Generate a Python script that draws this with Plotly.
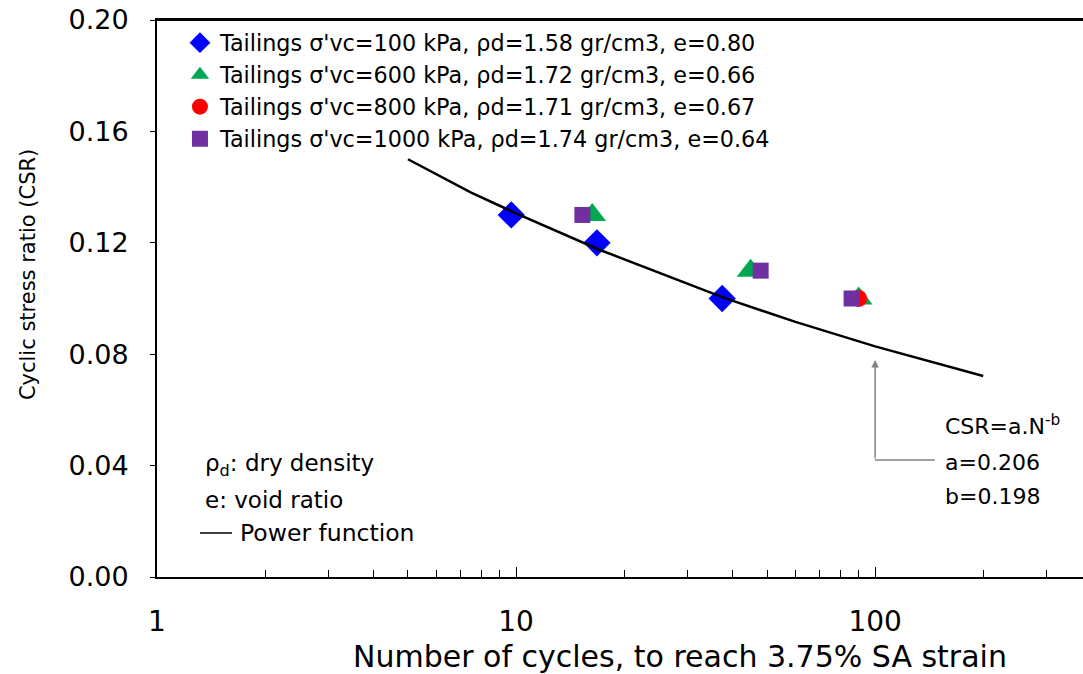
import numpy as np
import plotly.graph_objects as go

# Data
s100_N = [9.7, 16.8, 37.5]
s100_csr = [0.13, 0.12, 0.10]
s600_N = [16.3, 45.0, 90.0]
s600_csr = [0.13, 0.11, 0.10]
s800_N = [90.0]
s800_csr = [0.10]
s1000_N = [15.3, 48.0, 86.0]
s1000_csr = [0.13, 0.11, 0.10]
fit_N = [5, 7.5, 10, 17, 38, 60, 100, 200]
fit_csr = [0.150, 0.138, 0.1306, 0.1176, 0.1002, 0.0916, 0.0828, 0.0722]
x_tickvals = [1, 10, 100]
x_ticktext = ["1", "10", "100"]

names = [
    "Tailings σ'vc=100 kPa, ρd=1.58 gr/cm3, e=0.80",
    "Tailings σ'vc=600 kPa, ρd=1.72 gr/cm3, e=0.66",
    "Tailings σ'vc=800 kPa, ρd=1.71 gr/cm3, e=0.67",
    "Tailings σ'vc=1000 kPa, ρd=1.74 gr/cm3, e=0.64",
]

FONT = "DejaVu Sans"
fig = go.Figure()
fig.add_trace(go.Scatter(x=s100_N, y=s100_csr, mode="markers", name=names[0],
                         marker=dict(symbol="diamond", size=21, color="#0000FF")))
fig.add_trace(go.Scatter(x=s600_N, y=s600_csr, mode="markers", name=names[1],
                         marker=dict(symbol="triangle-up", size=24, color="#00A84F")))
fig.add_trace(go.Scatter(x=s800_N, y=s800_csr, mode="markers", name=names[2],
                         marker=dict(symbol="circle", size=17, color="#FF0000")))
fig.add_trace(go.Scatter(x=s1000_N, y=s1000_csr, mode="markers", name=names[3],
                         marker=dict(symbol="square", size=16, color="#7030A0")))
fig.add_trace(go.Scatter(x=fit_N, y=fit_csr, mode="lines", showlegend=False,
                         line=dict(color="black", width=2.5)))

fig.update_layout(
    width=1083, height=674,
    margin=dict(l=157, r=0, t=20, b=97),
    plot_bgcolor="white", paper_bgcolor="white",
    font=dict(family=FONT, size=22, color="black"),
    legend=dict(x=0.0248, y=0.997, xanchor="left", yanchor="top",
                bgcolor="rgba(0,0,0,0)", font=dict(size=22.3, family=FONT),
                tracegroupgap=0, itemwidth=30),
    showlegend=True,
)
fig.update_xaxes(type="log", range=[0, 2.579], automargin=False,
                 tickvals=x_tickvals, ticktext=x_ticktext,
                 ticks="inside", ticklen=10, tickcolor="black",
                 minor=dict(ticks="inside", ticklen=7, tickcolor="black", dtick="D1", showgrid=False),
                 showline=True, linecolor="black", linewidth=2, mirror=True,
                 showgrid=False, zeroline=False,
                 tickfont=dict(size=28), ticklabelstandoff=18)
fig.update_yaxes(range=[0, 0.2], dtick=0.04, tickformat=".2f", automargin=False,
                 ticks="outside", ticklen=5, tickcolor="black",
                 showline=True, linecolor="black", linewidth=2,
                 showgrid=False, zeroline=False,
                 tickfont=dict(size=27), ticklabelstandoff=16)

# top frame line
fig.add_shape(type="line", xref="paper", yref="paper", x0=0, x1=1, y0=1, y1=1,
              line=dict(color="black", width=2))

# axis titles
fig.add_annotation(text="Number of cycles, to reach 3.75% SA strain", x=0.5648, y=-0.1425,
                   xref="paper", yref="paper", xanchor="center", yanchor="middle",
                   showarrow=False, font=dict(size=30, family=FONT))
fig.add_annotation(text="Cyclic stress ratio (CSR)", x=-0.1393, y=0.542, textangle=-90,
                   xref="paper", yref="paper", xanchor="center", yanchor="middle",
                   showarrow=False, font=dict(size=21, family=FONT))

def note(text, x, y, size):
    fig.add_annotation(text=text, x=x, y=y, xref="paper", yref="paper",
                       xanchor="left", yanchor="middle", showarrow=False,
                       font=dict(size=size, family=FONT))

note("ρ<sub>d</sub>: dry density", 0.0497, 0.201, 23)
note("e: void ratio", 0.0497, 0.138, 23)
note("Power function", 0.0875, 0.079, 23.5)
fig.add_shape(type="line", xref="paper", yref="paper", x0=0.0464, x1=0.081, y0=0.079, y1=0.079,
              line=dict(color="black", width=1.5))
note("CSR=a.N<sup>-b</sup>", 0.8488, 0.273, 22)
note("a=0.206", 0.8488, 0.206, 22)
note("b=0.198", 0.8488, 0.144, 22)

fig.add_annotation(x=2.0, y=0.0779, ax=2.0, ay=0.042, xref="x", yref="y", axref="x", ayref="y",
                   showarrow=True, arrowhead=2, arrowsize=1, arrowwidth=1.5, arrowcolor="#808080", text="")
fig.add_shape(type="line", xref="paper", yref="y", x0=0.7754, x1=0.840, y0=0.042, y1=0.042,
              line=dict(color="#808080", width=1.5))

fig.write_html("out.html", config={"displayModeBar": False},
               post_script="document.body.style.margin='0px';document.body.style.overflow='hidden';")
